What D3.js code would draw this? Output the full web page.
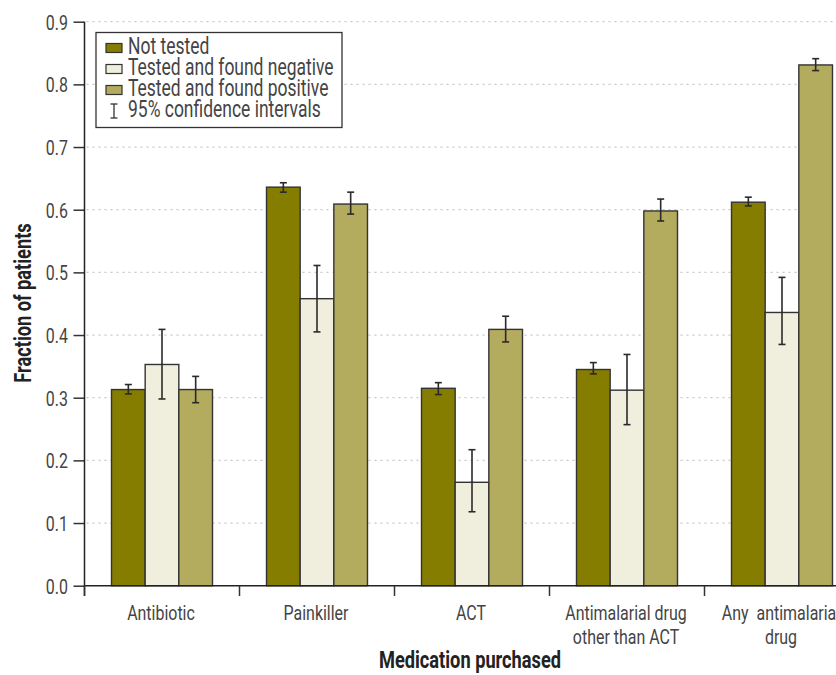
<!DOCTYPE html>
<html><head><meta charset="utf-8">
<script src="https://cdn.jsdelivr.net/npm/d3@7"></script>
<style>
body{margin:0;background:#fff;}
text{font-family:Roboto,"Liberation Sans",sans-serif;}
</style></head>
<body><svg id="c" width="836" height="675"></svg>
<script>
const categories = [["Antibiotic"],["Painkiller"],["ACT"],["Antimalarial drug","other than ACT"],["Any  antimalarial","drug"]];
const seriesNames = ["Not tested","Tested and found negative","Tested and found positive"];
const colors = ["#857d00","#f0eedd","#b3ab5e"];
const notTested = [0.313,0.636,0.315,0.345,0.612];
const notTestedLo = [0.306,0.628,0.305,0.338,0.606];
const notTestedHi = [0.321,0.643,0.324,0.356,0.620];
const negative = [0.353,0.458,0.165,0.312,0.436];
const negativeLo = [0.298,0.405,0.118,0.257,0.385];
const negativeHi = [0.409,0.511,0.217,0.369,0.492];
const positive = [0.313,0.609,0.409,0.598,0.831];
const positiveLo = [0.292,0.593,0.389,0.582,0.822];
const positiveHi = [0.334,0.628,0.430,0.617,0.841];
const yTicks = [0,0.1,0.2,0.3,0.4,0.5,0.6,0.7,0.8,0.9];

const SX=0.76, FS=21, LFS=23;
const vals=[notTested,negative,positive], los=[notTestedLo,negativeLo,positiveLo], his=[notTestedHi,negativeHi,positiveHi];
const svg=d3.select("#c");
const x0=84.5, step=155, yBase=585.7, yTop=21.7;
const x=d3.scaleBand().domain(d3.range(categories.length)).range([x0,x0+step*categories.length]).paddingInner(0).paddingOuter(0);
const xs=d3.scaleBand().domain([0,1,2]).range([0,101]);
const y=d3.scaleLinear().domain([0,0.9]).range([yBase,yTop]);

function ctext(parent,px,py,str,anchor,opts={}){
  const t=parent.append("text").attr("transform",`translate(${px},${py}) ${opts.rot?`rotate(${opts.rot})`:""} scale(${SX},1)`)
    .attr("text-anchor",anchor).attr("font-size",opts.fs||FS).attr("fill",opts.fill||"#444")
    .attr("font-weight",opts.bold?"bold":null).style("white-space","pre").text(str);
  return t;
}

// gridlines
svg.append("g").selectAll("line").data(yTicks.filter(d=>d>0)).join("line")
 .attr("x1",x0+2).attr("x2",836).attr("y1",d=>y(d)).attr("y2",d=>y(d))
 .attr("stroke","#c8c8c8").attr("stroke-width",1.3).attr("stroke-dasharray","2,4");

// bars
const gx=svg.append("g");
categories.forEach((c,i)=>{
  const g=gx.append("g").attr("transform",`translate(${x(i)+(step-101)/2},0)`);
  [0,1,2].forEach(s=>{
    g.append("rect").attr("x",xs(s)).attr("width",xs.bandwidth())
     .attr("y",y(vals[s][i])).attr("height",yBase-y(vals[s][i]))
     .attr("fill",colors[s]).attr("stroke","#333").attr("stroke-width",1.4);
  });
  [0,1,2].forEach(s=>{
    const cx=xs(s)+xs.bandwidth()/2;
    g.append("line").attr("x1",cx).attr("x2",cx).attr("y1",y(los[s][i])).attr("y2",y(his[s][i])).attr("stroke","#2a2a2a").attr("stroke-width",1.6);
    [los[s][i],his[s][i]].forEach(v=>g.append("line").attr("x1",cx-3.5).attr("x2",cx+3.5).attr("y1",y(v)).attr("y2",y(v)).attr("stroke","#2a2a2a").attr("stroke-width",1.6));
  });
});

// y axis
const yAxis=d3.axisLeft(y).tickValues(yTicks).tickFormat("").tickSize(11);
const ya=svg.append("g").attr("transform",`translate(${x0},0)`).call(yAxis);
ya.select(".domain").remove();
ya.selectAll(".tick line").attr("stroke","#333").attr("stroke-width",1.5);
const fmt=d3.format(".1f");
yTicks.forEach(v=>ctext(svg,68,y(v)+7.8,fmt(v),"end"));
svg.append("line").attr("x1",x0).attr("x2",x0).attr("y1",yTop).attr("y2",596).attr("stroke","#222").attr("stroke-width",1.5);

// x axis
svg.append("line").attr("x1",x0).attr("x2",836).attr("y1",yBase).attr("y2",yBase).attr("stroke","#222").attr("stroke-width",1.5);
svg.append("g").selectAll("line").data(d3.range(categories.length+1)).join("line")
 .attr("x1",d=>x0+d*step).attr("x2",d=>x0+d*step).attr("y1",yBase).attr("y2",596).attr("stroke","#333").attr("stroke-width",1.5);
const lab=svg.append("g");
categories.forEach((c,i)=>{
  c.forEach((l,k)=>ctext(lab,x(i)+step/2-1,620+k*24,l,"middle"));
});

// titles
ctext(svg,470,668,"Medication purchased","middle",{bold:true,fill:"#222",fs:24});
ctext(svg,31,303,"Fraction of patients","middle",{bold:true,fill:"#222",rot:-90,fs:24});

// legend
const lg=svg.append("g");
lg.append("rect").attr("x",96).attr("y",32.5).attr("width",246).attr("height",95).attr("fill","#fff").attr("stroke","#333").attr("stroke-width",1.3);
seriesNames.forEach((n,i)=>{
  const cy=48+i*21;
  lg.append("rect").attr("x",106).attr("y",cy-4.5).attr("width",16).attr("height",9).attr("fill",colors[i]).attr("stroke","#333").attr("stroke-width",1.2);
  ctext(lg,128,cy+5.5,n,"start",{fs:LFS});
});
const ey=48+3*21;
lg.append("line").attr("x1",114).attr("x2",114).attr("y1",ey-7).attr("y2",ey+7).attr("stroke","#333").attr("stroke-width",1.3);
[ey-7,ey+7].forEach(v=>lg.append("line").attr("x1",110.5).attr("x2",117.5).attr("y1",v).attr("y2",v).attr("stroke","#333").attr("stroke-width",1.3));
ctext(lg,128,ey+5.5,"95% confidence intervals","start",{fs:LFS});
</script></body></html>
